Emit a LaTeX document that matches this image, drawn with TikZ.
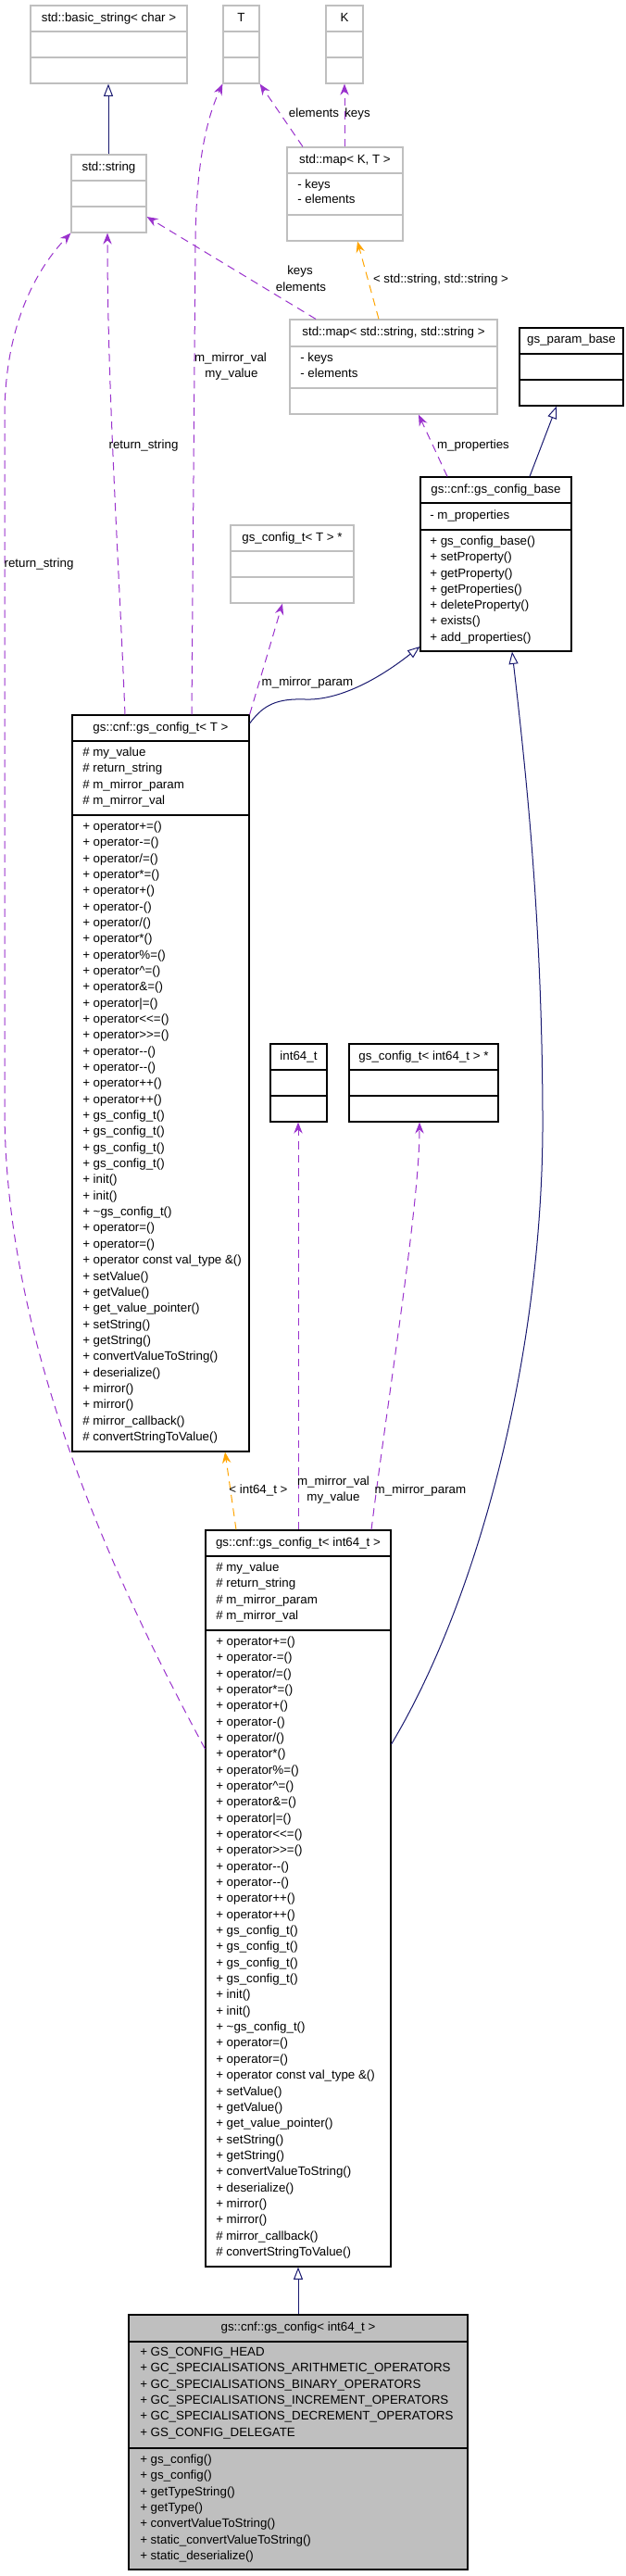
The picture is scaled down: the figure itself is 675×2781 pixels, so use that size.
\documentclass[tikz,border=0pt]{standalone}
\usepackage{fontspec}
\setmainfont{Liberation Sans}
\usetikzlibrary{arrows.meta,fit}
\definecolor{edgepurple}{HTML}{9A32CD}
\definecolor{edgeorange}{HTML}{FFA500}
\definecolor{edgenavy}{HTML}{191970}
\definecolor{boxgray}{HTML}{BFBFBF}
\definecolor{fillgray}{HTML}{BFBFBF}
\tikzset{
  every node/.style={font=\fontsize{10pt}{13pt}\selectfont},
  graybox/.style={draw=boxgray, line width=0.9pt, inner sep=0pt, fill=white},
  blackbox/.style={draw=black, line width=0.9pt, inner sep=0pt, fill=white},
  filledbox/.style={draw=black, line width=0.9pt, inner sep=0pt, fill=fillgray},
  ttl/.style={inner sep=0pt, anchor=center, text height=7.2pt, text depth=2pt},
  itm/.style={inner sep=0pt, anchor=west, text height=7.2pt, text depth=2pt},
  lbl/.style={inner sep=0pt, anchor=center, text height=7.2pt, text depth=2pt},
  usage/.style={draw=edgepurple, line width=0.75pt, dash pattern=on 6.5pt off 4.5pt,
    -{Stealth[length=9pt,width=7pt,inset=3pt]}},
  tmpl/.style={usage, draw=edgeorange},
  inh/.style={draw=edgenavy, line width=0.75pt,
    -{Triangle[open, fill=white, length=10pt, width=7.5pt]}},
}
% #1 style, #2 name, #3 x1, #4 y1, #5 x2, #6 y2, #7 div1, #8 div2, #9 divider colour
\newcommand\mkbox[9]{%
  \node[#1, fit={(#3,#4) (#5,#6)}] (#2) {};
  \draw[draw=#9, line width=0.9pt] (#2.west |- 0,#7) -- (#2.east |- 0,#7);
  \draw[draw=#9, line width=0.9pt] (#2.west |- 0,#8) -- (#2.east |- 0,#8);
}
% #1 name prefix, #2 x, #3 y0, #4 step, #5 list
\newcommand\mkitems[5]{%
  \foreach \t [count=\i from 1] in {#5} {
    \node[itm] (#1\i) at (#2, {#3+(\i-1)*#4}) {\t};
  }
}
\begin{document}
\begin{tikzpicture}[x=0.75pt, y=-0.75pt]
\fill[white] (0,0) rectangle (675,2781);
\useasboundingbox (0,0) rectangle (675,2781);

% ---------- boxes ----------
\mkbox{graybox}{bstr}{33}{6}{202}{90}{34}{62}{boxgray}
\node[ttl] (bstr-t) at (bstr.north |- 0,20) {std::basic\_string< char >};

\mkbox{graybox}{T}{241}{6}{280}{90}{34}{62}{boxgray}
\node[ttl] (T-t) at (T.north |- 0,20) {T};

\mkbox{graybox}{K}{352}{6}{392}{90}{34}{62}{boxgray}
\node[ttl] (K-t) at (K.north |- 0,20) {K};

\mkbox{graybox}{stdstr}{77}{167}{158}{251}{195}{223}{boxgray}
\node[ttl] (stdstr-t) at (stdstr.north |- 0,181) {std::string};

\mkbox{graybox}{map1}{310}{159}{435}{260}{187}{232}{boxgray}
\node[ttl] (map1-t) at (map1.north |- 0,173) {std::map< K, T >};
\node[itm] (map1-a1) at (321,200) {- keys};
\node[itm] (map1-a2) at (321,216) {- elements};

\mkbox{graybox}{map2}{313}{345}{537}{447}{374}{419}{boxgray}
\node[ttl] (map2-t) at (map2.north |- 0,359) {std::map< std::string, std::string >};
\node[itm] (map2-a1) at (324,387) {- keys};
\node[itm] (map2-a2) at (324,404) {- elements};

\mkbox{blackbox}{gpb}{561}{354}{673}{438}{382}{410}{black}
\node[ttl] (gpb-t) at (gpb.north |- 0,367) {gs\_param\_base};

\mkbox{blackbox}{gcb}{454}{515}{617}{703}{543}{572}{black}
\node[ttl] (gcb-t) at (gcb.north |- 0,529) {gs::cnf::gs\_config\_base};
\node[itm] (gcb-a1) at (464,557) {- m\_properties};
\mkitems{gcb-m}{464}{585}{17.3}{+ gs\_config\_base(), + setProperty(), + getProperty(), + getProperties(), + deleteProperty(), + exists(), + add\_properties()}

\mkbox{graybox}{gctp}{249}{567}{382}{651}{595}{623}{boxgray}
\node[ttl] (gctp-t) at (gctp.north |- 0,581) {gs\_config\_t< T > *};

\mkbox{blackbox}{gct}{78}{772}{269}{1567}{800}{880}{black}
\node[ttl] (gct-t) at (gct.north |- 0,786) {gs::cnf::gs\_config\_t< T >};
\mkitems{gct-a}{89}{813}{17.34}{\# my\_value, \# return\_string, \# m\_mirror\_param, \# m\_mirror\_val}
\mkitems{gct-m}{89}{893}{17.34}{+ operator+=(), + operator-=(), + operator/=(), + operator*=(), + operator+(), + operator-(), + operator/(), + operator*(), + operator\%=(), + operator\textasciicircum=(), + operator\&=(), + operator|=(), + operator<{}<=(), + operator>{}>=(), + operator-{}-(), + operator-{}-(), + operator++(), + operator++(), + gs\_config\_t(), + gs\_config\_t(), + gs\_config\_t(), + gs\_config\_t(), + init(), + init(), + \textasciitilde{}gs\_config\_t(), + operator=(), + operator=(), + operator const val\_type \&(), + setValue(), + getValue(), + get\_value\_pointer(), + setString(), + getString(), + convertValueToString(), + deserialize(), + mirror(), + mirror(), \# mirror\_callback(), \# convertStringToValue()}

\mkbox{blackbox}{i64}{292}{1127}{353}{1211}{1155}{1183}{black}
\node[ttl] (i64-t) at (i64.north |- 0,1141) {int64\_t};

\mkbox{blackbox}{gctp64}{377}{1127}{538}{1211}{1155}{1183}{black}
\node[ttl] (gctp64-t) at (gctp64.north |- 0,1141) {gs\_config\_t< int64\_t > *};

\mkbox{blackbox}{gct64}{222}{1652}{422}{2447}{1680}{1760}{black}
\node[ttl] (gct64-t) at (gct64.north |- 0,1666) {gs::cnf::gs\_config\_t< int64\_t >};
\mkitems{gct64-a}{233}{1693}{17.34}{\# my\_value, \# return\_string, \# m\_mirror\_param, \# m\_mirror\_val}
\mkitems{gct64-m}{233}{1773}{17.34}{+ operator+=(), + operator-=(), + operator/=(), + operator*=(), + operator+(), + operator-(), + operator/(), + operator*(), + operator\%=(), + operator\textasciicircum=(), + operator\&=(), + operator|=(), + operator<{}<=(), + operator>{}>=(), + operator-{}-(), + operator-{}-(), + operator++(), + operator++(), + gs\_config\_t(), + gs\_config\_t(), + gs\_config\_t(), + gs\_config\_t(), + init(), + init(), + \textasciitilde{}gs\_config\_t(), + operator=(), + operator=(), + operator const val\_type \&(), + setValue(), + getValue(), + get\_value\_pointer(), + setString(), + getString(), + convertValueToString(), + deserialize(), + mirror(), + mirror(), \# mirror\_callback(), \# convertStringToValue()}

\mkbox{filledbox}{gc}{139}{2499}{505}{2774}{2528}{2643}{black}
\node[ttl] (gc-t) at (gc.north |- 0,2513) {gs::cnf::gs\_config< int64\_t >};
\mkitems{gc-a}{151}{2540}{17.34}{+ GS\_CONFIG\_HEAD, + GC\_SPECIALISATIONS\_ARITHMETIC\_OPERATORS, + GC\_SPECIALISATIONS\_BINARY\_OPERATORS, + GC\_SPECIALISATIONS\_INCREMENT\_OPERATORS, + GC\_SPECIALISATIONS\_DECREMENT\_OPERATORS, + GS\_CONFIG\_DELEGATE}
\mkitems{gc-m}{151}{2656}{17.34}{+ gs\_config(), + gs\_config(), + getTypeString(), + getType(), + convertValueToString(), + static\_convertValueToString(), + static\_deserialize()}

% ---------- connectors ----------
\draw[inh] (stdstr.north -| 117,0) -- (bstr.south -| 117,0);

\draw[usage] (gct.north -| 135,0) .. controls (128,600) and (116,420) .. (stdstr.south -| 116,0);
\node[lbl] (l-rs1) at (155,481) {return\_string};

\draw[usage] (gct64.west |- 0,1888) .. controls (120,1700) and (6,1450) .. (5,1200) -- (5,450) .. controls (5,350) and (40,290) .. (stdstr.south west);
\node[lbl] (l-rs2) at (42,609) {return\_string};

\draw[usage] (gct.north -| 207,0) -- (211,260) .. controls (212,180) and (222,130) .. (T.south west);
\node[lbl] (l-mv1) at (249,387) {m\_mirror\_val};
\node[lbl] (l-my1) at (250,404) {my\_value};

\draw[usage] (map1.north -| 327,0) -- (T.south east);
\draw[usage] (map1.north -| 372,0) -- (K.south -| 372,0);
\node[lbl] (l-el1) at (339,123) {elements};
\node[lbl] (l-k1) at (386,123) {keys};

\draw[usage] (map2.north -| 341,0) -- (stdstr.east |- 0,234);
\node[lbl] (l-k2) at (324,293) {keys};
\node[lbl] (l-el2) at (325,311) {elements};

\draw[tmpl] (map2.north -| 409,0) -- (map1.south -| 386,0);
\node[lbl] (l-ss) at (476,302) {< std::string, std::string >};

\draw[usage] (gcb.north -| 483,0) -- (map2.south -| 452,0);
\node[lbl] (l-mp) at (511,481) {m\_properties};

\draw[inh] (gcb.north -| 572,0) -- (gpb.south -| 601,0);

\draw[usage] (gct.north east) -- (gctp.south -| 305,0);
\node[lbl] (l-mpar1) at (332,737) {m\_mirror\_param};

\draw[inh] (gct.east |- 0,781) .. controls (285,760) and (300,754) .. (330,755) .. controls (360,756) and (400,740) .. (gcb.west |- 0,698);

\draw[inh] (gct64.east |- 0,1883) .. controls (520,1720) and (588,1450) .. (586,1200) .. controls (585,1000) and (570,850) .. (gcb.south -| 553,0);

\draw[tmpl] (gct64.north -| 255,0) -- (gct.south -| 243,0);
\node[lbl] (l-i64) at (279,1609) {< int64\_t >};

\draw[usage] (gct64.north -| 322,0) -- (i64.south -| 322,0);
\node[lbl] (l-mv2) at (360,1600) {m\_mirror\_val};
\node[lbl] (l-my2) at (360,1617) {my\_value};

\draw[usage] (gct64.north -| 401,0) .. controls (420,1500) and (453,1300) .. (gctp64.south -| 453,0);
\node[lbl] (l-mpar2) at (454,1609) {m\_mirror\_param};

\draw[inh] (gc.north -| 322,0) -- (gct64.south -| 322,0);
\end{tikzpicture}
\end{document}
